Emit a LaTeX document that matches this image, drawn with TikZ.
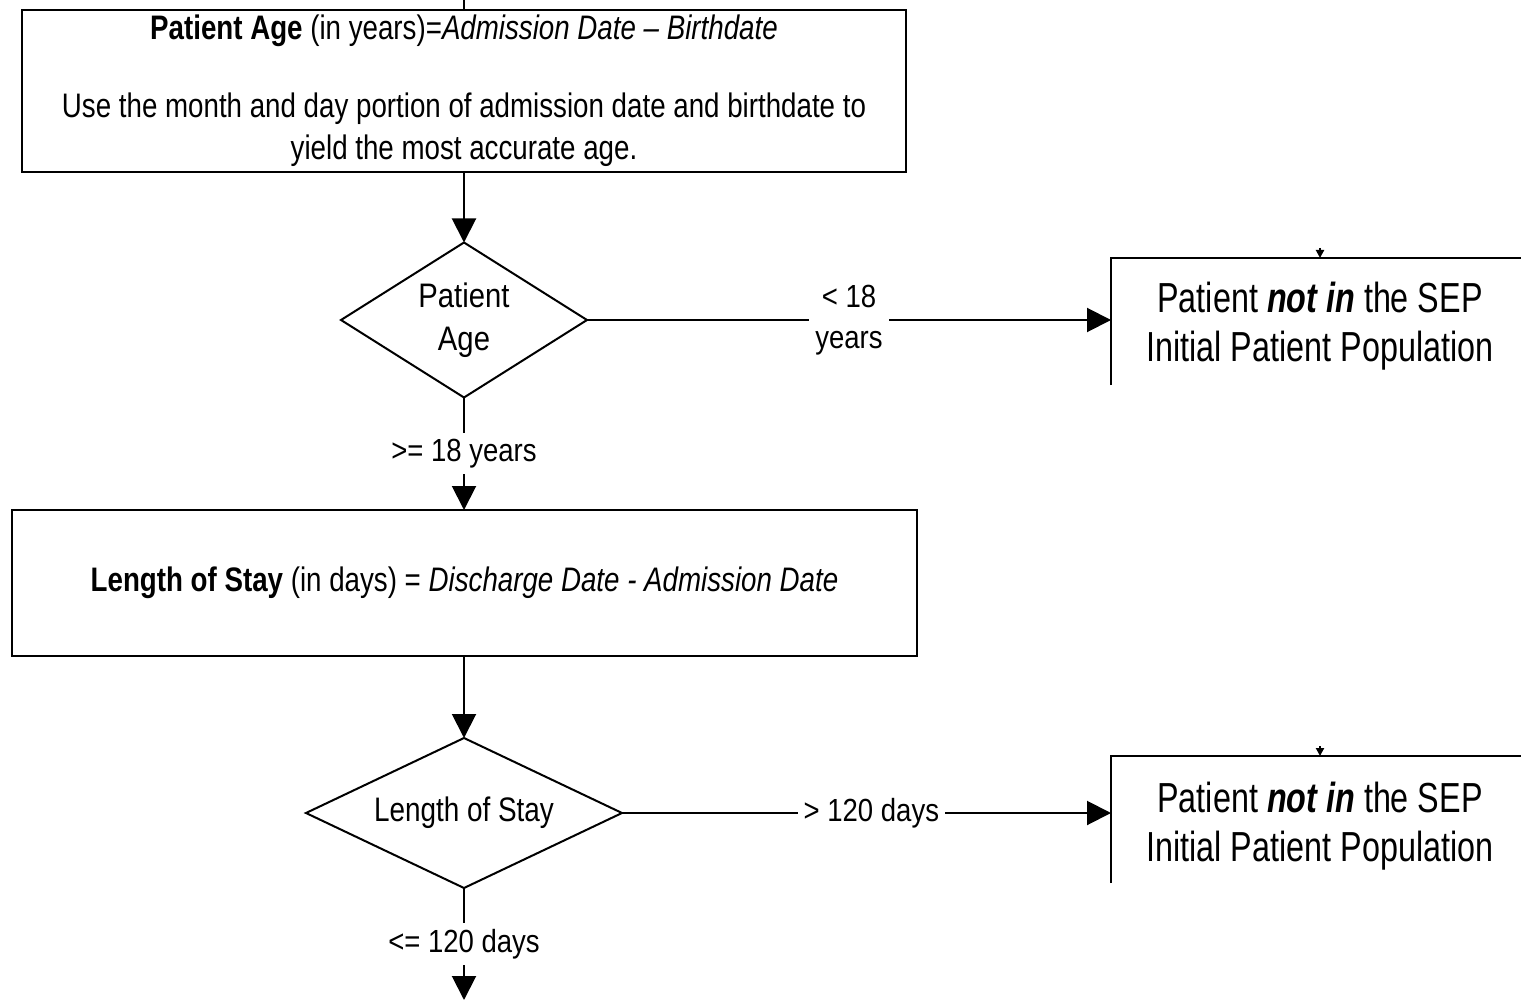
\documentclass[tikz,border=0pt]{standalone}
\usepackage{fontspec}
\setmainfont[FakeStretch=0.86]{Liberation Sans}
\newfontfamily\narrowfont[FakeStretch=0.815]{Liberation Sans}
\newfontfamily\outcomefont[FakeStretch=0.77]{Liberation Sans}
\usetikzlibrary{arrows.meta,shapes.geometric}

\begin{document}
\begin{tikzpicture}[x=0.5pt,y=-0.5pt,
  every node/.style={inner sep=0pt, outer sep=0pt},
  box/.style={draw, line width=1pt, rectangle, align=center},
  decision/.style={draw, line width=1pt, diamond, align=center,
    font=\fontsize{17}{21.5}\selectfont},
  outcome/.style={rectangle, align=center, minimum width=209pt,
    font=\outcomefont\fontsize{21}{24.5}\selectfont},
  flow/.style={line width=1pt, -{Triangle[length=12pt,width=12pt]}},
  stub/.style={line width=1pt, -{Triangle[length=4pt,width=4pt]}},
  edgelabel/.style={fill=white, inner sep=3pt, align=center,
    font=\fontsize{16}{20.5}\selectfont},
]
\useasboundingbox[fill=white] (0,0) rectangle (1521,1000);

% age calculation
\node[box, minimum width=442pt, minimum height=81pt,
      font=\narrowfont\fontsize{17}{21}\selectfont] (age) at (464,91)
  {\textbf{Patient Age} (in years)=\textit{Admission Date – Birthdate}\\[18pt]
   Use the month and day portion of admission date and birthdate to\\
   yield the most accurate age.};

\node[decision, aspect=1.59, minimum width=123pt, minimum height=77.5pt] (d1) at (464,320)
  {Patient\\Age};

% length of stay calculation
\node[box, minimum width=452.5pt, minimum height=73pt,
      font=\narrowfont\fontsize{17}{21}\selectfont] (los) at (464.5,583)
  {\textbf{Length of Stay} (in days) = \textit{Discharge Date - Admission Date}};

\node[decision, aspect=2.1, minimum width=158pt, minimum height=75pt,
      font=\fontsize{17}{21.5}\selectfont\addfontfeatures{FakeStretch=0.82}] (d2) at (464,813)
  {Length of Stay};

% excluded outcomes (open on the right and bottom)
\node[outcome, minimum height=68.5pt] (r1) at (1320,326.5)
  {Patient \textbf{\textit{not in}} the SEP\\Initial Patient Population};
\node[outcome, minimum height=70pt] (r2) at (1320,826)
  {Patient \textbf{\textit{not in}} the SEP\\Initial Patient Population};
\draw[line width=1pt] ([yshift=5pt]r1.south west) -- (r1.north west) -- (r1.north east);
\draw[line width=1pt] ([yshift=6.5pt]r2.south west) -- (r2.north west) -- (r2.north east);

% stubs of incoming connectors
\draw[line width=1pt] ([yshift=5pt]age.north) -- (age.north);
\draw[stub] ([yshift=5pt]r1.north) -- (r1.north);
\draw[stub] ([yshift=5pt]r2.north) -- (r2.north);

% flow
\coordinate (out) at (464,1000);
\draw[flow] (age.south) -- (d1.north);
\draw[flow] (d1.east) -- node[edgelabel] {<~18\\years} (d1.east -| r1.west);
\draw[flow] (d1.south) -- node[edgelabel] {>= 18 years} (los.north -| d1.south);
\draw[flow] (los.south -| d2.north) -- (d2.north);
\draw[flow] (d2.east) -- node[edgelabel, pos=0.51] {> 120 days} (d2.east -| r2.west);
\draw[flow] (d2.south) -- node[edgelabel] {<= 120 days} (out);
\end{tikzpicture}
\end{document}
